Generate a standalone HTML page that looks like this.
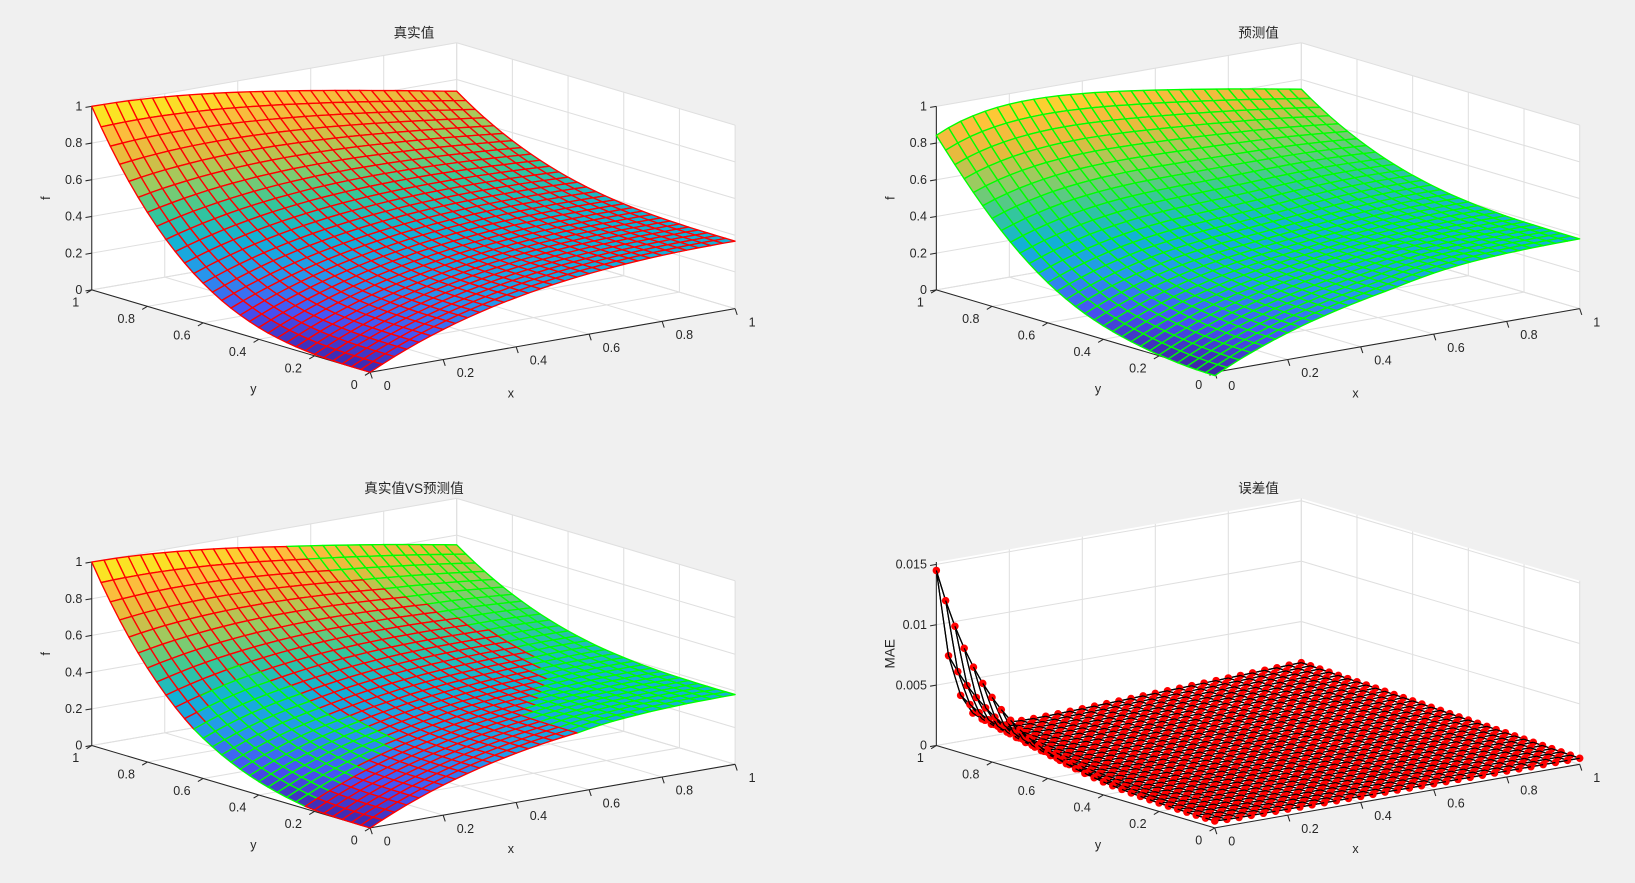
<!DOCTYPE html>
<html><head><meta charset="utf-8"><style>
html,body{margin:0;padding:0;background:#f0f0f0;}
svg{display:block;font-family:"Liberation Sans","Noto Sans CJK SC",sans-serif;}
</style></head><body>
<svg width="1635" height="883" viewBox="0 0 1635 883" xmlns="http://www.w3.org/2000/svg"><g id="s" transform="scale(1.0427)"></g></svg>
<script>
const S=document.getElementById('s');let h='';
const N=30;
const P=[[0.2422,0.1504,0.6603],[0.2810,0.3228,0.9579],[0.1540,0.5902,0.9218],[0.0689,0.6948,0.8394],[0.2161,0.7843,0.5923],[0.5889,0.7988,0.3868],[0.9000,0.7292,0.2435],[0.9932,0.7418,0.2397],[0.9769,0.9839,0.0805]];
function cmap(t){t=Math.max(0,Math.min(1,t))*8;let i=Math.min(7,Math.floor(t)),f=t-i;let c=P[i].map((v,k)=>Math.round(255*(v+(P[i+1][k]-v)*f)));return `rgb(${c})`;}
function tf(x,y){return Math.exp(-x)*(x+y*y*y);}
function df(x,y){return -0.17*Math.pow(y,6)*Math.exp(-6*x)+0.012-0.035*Math.exp(-((x-0.55)*(x-0.55)/0.07+(y-0.58)*(y-0.58)/0.09))-0.03*Math.exp(-y*y/0.06)/(1+Math.exp((x-0.55)/0.05));}
function pf(x,y){return tf(x,y)+df(x,y);}
function pr(ox,oy,x,y,z){return [ox+355+350*x-267*y, oy+357-61*x-79*y-176*z];}
function pt(p){return p[0].toFixed(1)+','+p[1].toFixed(1);}
function line(a,b,c,w){h+=`<line x1="${a[0].toFixed(1)}" y1="${a[1].toFixed(1)}" x2="${b[0].toFixed(1)}" y2="${b[1].toFixed(1)}" stroke="${c}" stroke-width="${w}"/>`;}
function txt(x,y,s,anc,sz,extra){h+=`<text x="${x}" y="${y}" font-size="${sz||12}" fill="#262626" text-anchor="${anc||'middle'}" ${extra||''}>${s}</text>`;}
function axes(ox,oy,title,zt,zlab,zmax){
  const q=(x,y,z)=>pr(ox,oy,x,y,z);
  h+=`<polygon points="${[q(0,0,0),q(1,0,0),q(1,0,1),q(1,1,1),q(0,1,1),q(0,1,0)].map(pt).join(' ')}" fill="#fff"/>`;
  const g='#dfdfdf';
  for(let i=0;i<=5;i++){let v=i/5;
    line(q(v,1,0),q(v,1,1),g,1); line(q(1,v,0),q(1,v,1),g,1);
    line(q(v,0,0),q(v,1,0),g,1); line(q(0,v,0),q(1,v,0),g,1);}
  zt.forEach(z=>{let zn=z/zmax;line(q(0,1,zn),q(1,1,zn),g,1);line(q(1,1,zn),q(1,0,zn),g,1);});
  const k='#262626';
  line(q(0,0,0),q(1,0,0),k,1);line(q(0,0,0),q(0,1,0),k,1);line(q(0,1,0),q(0,1,1),k,1);
  zt.forEach(z=>{let p=q(0,1,z/zmax);line(p,[p[0]-6,p[1]+1],k,1);txt(p[0]-9,p[1]+4,String(z),'end');});
  for(let i=0;i<=5;i++){let v=i/5,l=(v===0||v===1)?String(v):v.toFixed(1);
    let p=q(v,0,0);line(p,[p[0]+2,p[1]+6],k,1);txt(p[0]+13,p[1]+17,l,'start');
    p=q(0,v,0);line(p,[p[0]-5,p[1]+3],k,1);txt(p[0]-12,p[1]+16,l,'end');}
  txt(ox+490,oy+381,'x');txt(ox+243,oy+377,'y');
  h+=`<text x="${ox+48}" y="${oy+190}" font-size="${zlab==='f'?12:13}" fill="#262626" text-anchor="middle" transform="rotate(-90 ${ox+48} ${oy+190})">${zlab}</text>`;
  txt(ox+397,oy+36,title,'middle',13);
}
function surf(ox,oy,fns){
  let quads=[];
  for(let i=0;i<N;i++)for(let j=0;j<N;j++){
    let x0=i/N,x1=(i+1)/N,y0=j/N,y1=(j+1)/N;
    let best=null,bz=-1e9;
    fns.forEach(o=>{let zc=o.f((x0+x1)/2,(y0+y1)/2);if(zc>bz){bz=zc;best=o;}});
    quads.push({d:x0+y0,x0,x1,y0,y1,o:best});
  }
  quads.sort((a,b)=>b.d-a.d);
  quads.forEach(Q=>{const f=Q.o.f;
    let c=[[Q.x0,Q.y0],[Q.x1,Q.y0],[Q.x1,Q.y1],[Q.x0,Q.y1]];
    let zs=c.map(v=>f(v[0],v[1]));let zm=zs.reduce((a,b)=>a+b)/4;
    let pts=c.map((v,k)=>pr(ox,oy,v[0],v[1],zs[k]));
    h+=`<polygon points="${pts.map(pt).join(' ')}" fill="${cmap(zm)}" stroke="${Q.o.e}" stroke-width="1.3" stroke-linejoin="round"/>`;
  });
}
const zt=[0,0.2,0.4,0.6,0.8,1];
axes(0,0,'真实值',zt,'f',1); surf(0,0,[{f:tf,e:'#ff0000'}]);
axes(810,0,'预测值',zt,'f',1); surf(810,0,[{f:pf,e:'#00ff00'}]);
axes(0,437,'真实值VS预测值',zt,'f',1); surf(0,437,[{f:tf,e:'#ff0000'},{f:pf,e:'#00ff00'}]);
const ZM=0.0152;
function ef(x,y){return 0.014*Math.exp(-22*x)*Math.exp(-5.3*(1-y))+0.0005+0.0011*x*y;}
axes(810,437,'误差值',[0,0.005,0.01,0.015],'MAE',ZM);
let pts=[];for(let i=0;i<=N;i++)for(let j=0;j<=N;j++)pts.push([i,j]);
pts.sort((a,b)=>(b[0]+b[1])-(a[0]+a[1]));
const E=(i,j)=>pr(810,437,i/N,j/N,ef(i/N,j/N)/ZM);
pts.forEach(([i,j])=>{let p=E(i,j);
  if(i>0)line(p,E(i-1,j),'#000',1.2); if(j>0)line(p,E(i,j-1),'#000',1.2);
  if(i<N)line(p,E(i+1,j),'#000',1.2); if(j<N)line(p,E(i,j+1),'#000',1.2);
  h+=`<circle cx="${p[0].toFixed(1)}" cy="${p[1].toFixed(1)}" r="3.6" fill="#ff0000"/>`;});
S.innerHTML=h;
</script>
</body></html>
